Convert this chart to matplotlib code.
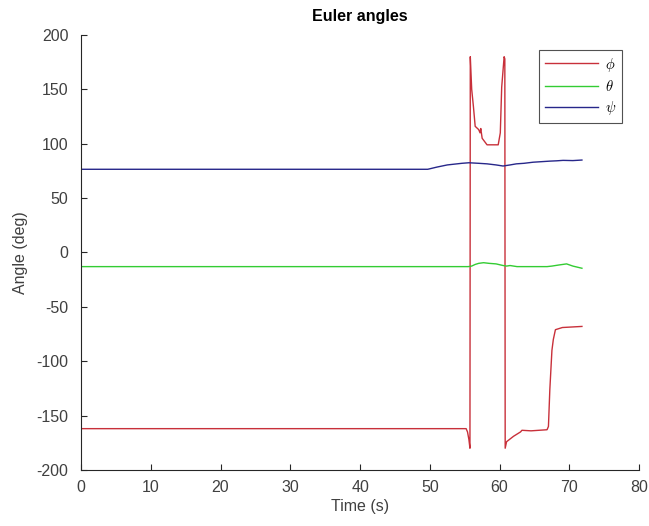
import matplotlib.pyplot as plt
import numpy as np

plt.rcParams['font.family'] = ['Liberation Sans', 'DejaVu Sans']
plt.rcParams['mathtext.fontset'] = 'cm'
plt.rcParams['axes.unicode_minus'] = False

# phi (roll) - wraps around +/-180
phi_t = [0, 55.2, 55.4, 55.6, 55.75, 55.8, 55.9, 56.0, 56.25, 56.5, 57.0, 57.2, 57.3,
         57.5, 58.2, 59.8, 60.1, 60.3, 60.65, 60.75, 60.8, 61.0, 62.0, 63.0, 63.2,
         64.5, 66.8, 67.0, 67.2, 67.5, 67.7, 68.0, 69.0, 71.8]
phi_v = [-162, -162, -165, -172, -180, 180, 165, 150, 134, 116, 113, 110, 114,
         105, 99, 99, 110, 152, 180, 178, -180, -174, -169, -165, -163.5,
         -164, -163, -160, -126, -90, -80, -71, -69, -68]

# theta (pitch)
theta_t = [0, 55.5, 56.0, 56.5, 57.0, 57.7, 58.5, 59.5, 60.5, 61.0, 61.5, 62.5,
           66.8, 67.5, 68.5, 69.6, 70.5, 71.8]
theta_v = [-13, -13, -12.5, -11, -10, -9.4, -10, -10.5, -12, -12.5, -12, -13,
           -13, -12.5, -11.5, -10.5, -12.5, -14.5]

# psi (yaw)
psi_t = [0, 49.7, 51.0, 52.5, 54.6, 55.6, 57.0, 58.2, 59.5, 60.5, 61.5, 62.4,
         63.5, 64.8, 66.0, 67.2, 68.2, 69.1, 70.5, 71.8]
psi_v = [76.5, 76.5, 78.5, 80.5, 82, 82.5, 82, 81.5, 80.5, 79.5, 80.5, 81.5,
         82, 83, 83.5, 84, 84.3, 84.7, 84.5, 85]

fig = plt.figure(figsize=(6.49, 5.26), dpi=100)
ax = fig.add_axes([0.1248, 0.1065, 0.86, 0.827])

ax.plot(phi_t, phi_v, color='#c8303a', lw=1.0, label=r'$\phi$')
ax.plot(theta_t, theta_v, color='#33cc33', lw=1.0, label=r'$\theta$')
ax.plot(psi_t, psi_v, color='#27278a', lw=1.0, label=r'$\psi$')

ax.set_xlim(0, 80)
ax.set_ylim(-200, 200)
ax.set_xticks(np.arange(0, 81, 10))
ax.set_yticks(np.arange(-200, 201, 50))

ax.spines['top'].set_visible(False)
ax.spines['right'].set_visible(False)
for s in ['left', 'bottom']:
    ax.spines[s].set_color('#262626')
    ax.spines[s].set_linewidth(0.8)
ax.tick_params(direction='in', length=4, width=0.8, colors='#262626',
               labelcolor='#404040', labelsize=11.5)
ax.tick_params(axis='y', pad=9)
ax.tick_params(axis='x', pad=7)

ax.set_title('Euler angles', fontsize=11.5, fontweight='bold', pad=10)
ax.set_xlabel('Time (s)', fontsize=11.5, color='#404040', labelpad=3)
ax.set_ylabel('Angle (deg)', fontsize=11.5, color='#404040', labelpad=6)

leg = ax.legend(loc='upper right', bbox_to_anchor=(0.9695, 0.966),
                borderaxespad=0, fancybox=False, edgecolor='#262626',
                handlelength=3.6, fontsize=10.5, borderpad=0.4,
                labelspacing=0.35, handletextpad=0.5)
leg.get_frame().set_linewidth(0.8)

fig.savefig('out.png', dpi=100)
